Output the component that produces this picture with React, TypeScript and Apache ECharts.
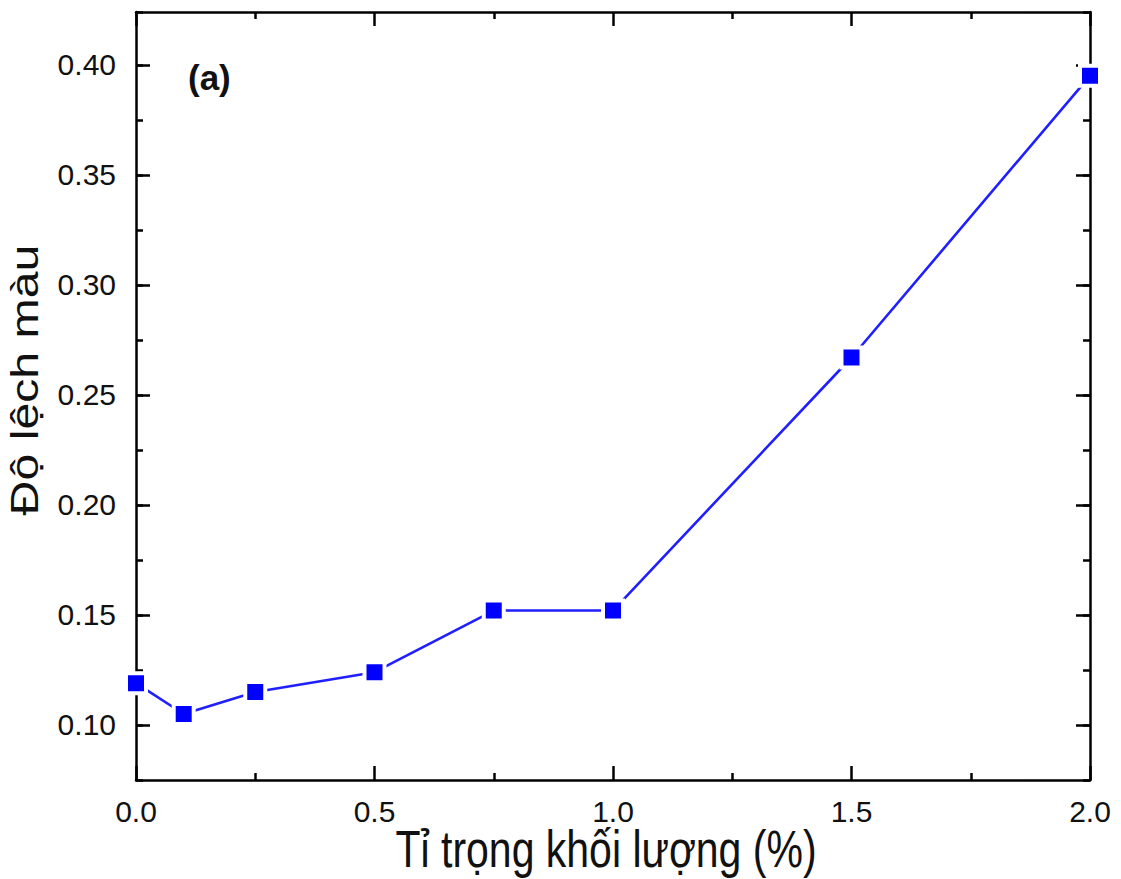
import React, { useEffect, useRef } from "react";
import * as echarts from "echarts";

const massRatio = [0, 0.1, 0.25, 0.5, 0.75, 1.0, 1.5, 2.0];
const colorDeviation = [0.119, 0.105, 0.115, 0.124, 0.152, 0.152, 0.267, 0.395];
const yMajorTicks = [0.1, 0.15, 0.2, 0.25, 0.3, 0.35, 0.4];
const xTitle = "Tỉ trọng khối lượng (%)";
const yTitle = "Độ lệch màu";
const panelLabel = "(a)";

const FONT = "Liberation Sans, Arial, Helvetica, sans-serif";
const AX = "#000";
const AXW = 2.5;

export default function App() {
  const ref = useRef<HTMLDivElement>(null);
  useEffect(() => {
    if (!ref.current) return;
    const chart = echarts.init(ref.current, undefined, { renderer: "svg" });
    const yMin = 0.075;
    const yMax = 0.424;
    const majorTick = { show: true, inside: true, length: 14, lineStyle: { color: AX, width: AXW } };
    const minorTickAxis = { show: true, inside: true, length: 7, lineStyle: { color: AX, width: AXW } };
    chart.setOption({
      animation: false,
      backgroundColor: "#fff",
      grid: { left: 136, top: 12, right: 31, bottom: 99, containLabel: false, outerBoundsMode: "none" },
      xAxis: [
        {
          type: "value",
          min: 0,
          max: 2,
          interval: 0.5,
          position: "bottom",
          axisLine: { show: true, lineStyle: { color: AX, width: AXW } },
          axisTick: majorTick,
          minorTick: { show: true, splitNumber: 2, length: 7, lineStyle: { color: AX, width: AXW } },
          splitLine: { show: false },
          axisLabel: {
            show: true,
            margin: 16,
            fontSize: 30,
            fontFamily: FONT,
            color: "#111",
            formatter: (v: number) => v.toFixed(1),
          },
        },
        {
          type: "value",
          min: 0,
          max: 2,
          interval: 0.5,
          position: "top",
          axisLine: { show: true, lineStyle: { color: AX, width: AXW } },
          axisTick: majorTick,
          minorTick: { show: true, splitNumber: 2, length: 7, lineStyle: { color: AX, width: AXW } },
          splitLine: { show: false },
          axisLabel: { show: false },
        },
      ],
      yAxis: [
        {
          type: "value",
          min: yMin,
          max: yMax,
          position: "left",
          axisLine: { show: true, lineStyle: { color: AX, width: AXW } },
          axisTick: { ...majorTick, customValues: yMajorTicks },
          splitLine: { show: false },
          axisLabel: {
            show: true,
            margin: 20,
            fontSize: 30,
            fontFamily: FONT,
            color: "#111",
            customValues: yMajorTicks,
            formatter: (v: number) => v.toFixed(2),
          },
        },
        {
          type: "value",
          min: yMin,
          max: yMax,
          interval: 0.025,
          position: "left",
          axisLine: { show: false },
          axisTick: minorTickAxis,
          splitLine: { show: false },
          axisLabel: { show: false },
        },
        {
          type: "value",
          min: yMin,
          max: yMax,
          position: "right",
          axisLine: { show: true, lineStyle: { color: AX, width: AXW } },
          axisTick: { ...majorTick, customValues: yMajorTicks },
          splitLine: { show: false },
          axisLabel: { show: false },
        },
        {
          type: "value",
          min: yMin,
          max: yMax,
          interval: 0.025,
          position: "right",
          axisLine: { show: false },
          axisTick: minorTickAxis,
          splitLine: { show: false },
          axisLabel: { show: false },
        },
      ],
      graphic: [
        {
          type: "text",
          left: 188,
          top: 60,
          style: { text: panelLabel, font: `bold 35px ${FONT}`, fill: "#111" },
        },
        {
          type: "text",
          x: 606,
          y: 849,
          scaleY: 1.28,
          style: { text: xTitle, font: `41px ${FONT}`, fill: "#111", align: "center", verticalAlign: "middle" },
        },
        {
          type: "text",
          x: 25,
          y: 380,
          rotation: Math.PI / 2,
          scaleX: 1.27,
          style: { text: yTitle, font: `38px ${FONT}`, fill: "#111", align: "center", verticalAlign: "middle" },
        },
      ],
      series: [
        {
          type: "line",
          xAxisIndex: 0,
          yAxisIndex: 0,
          data: massRatio.map((x, i) => [x, colorDeviation[i]]),
          symbol: "rect",
          symbolSize: 20,
          showAllSymbol: true,
          lineStyle: { color: "#1f1fff", width: 2.6 },
          itemStyle: { color: "#0000ff", borderColor: "#fff", borderWidth: 4 },
          z: 3,
        },
      ],
    });
    return () => chart.dispose();
  }, []);
  return <div ref={ref} style={{ width: 1121, height: 879, position: "absolute", left: 0, top: 0 }} />;
}
